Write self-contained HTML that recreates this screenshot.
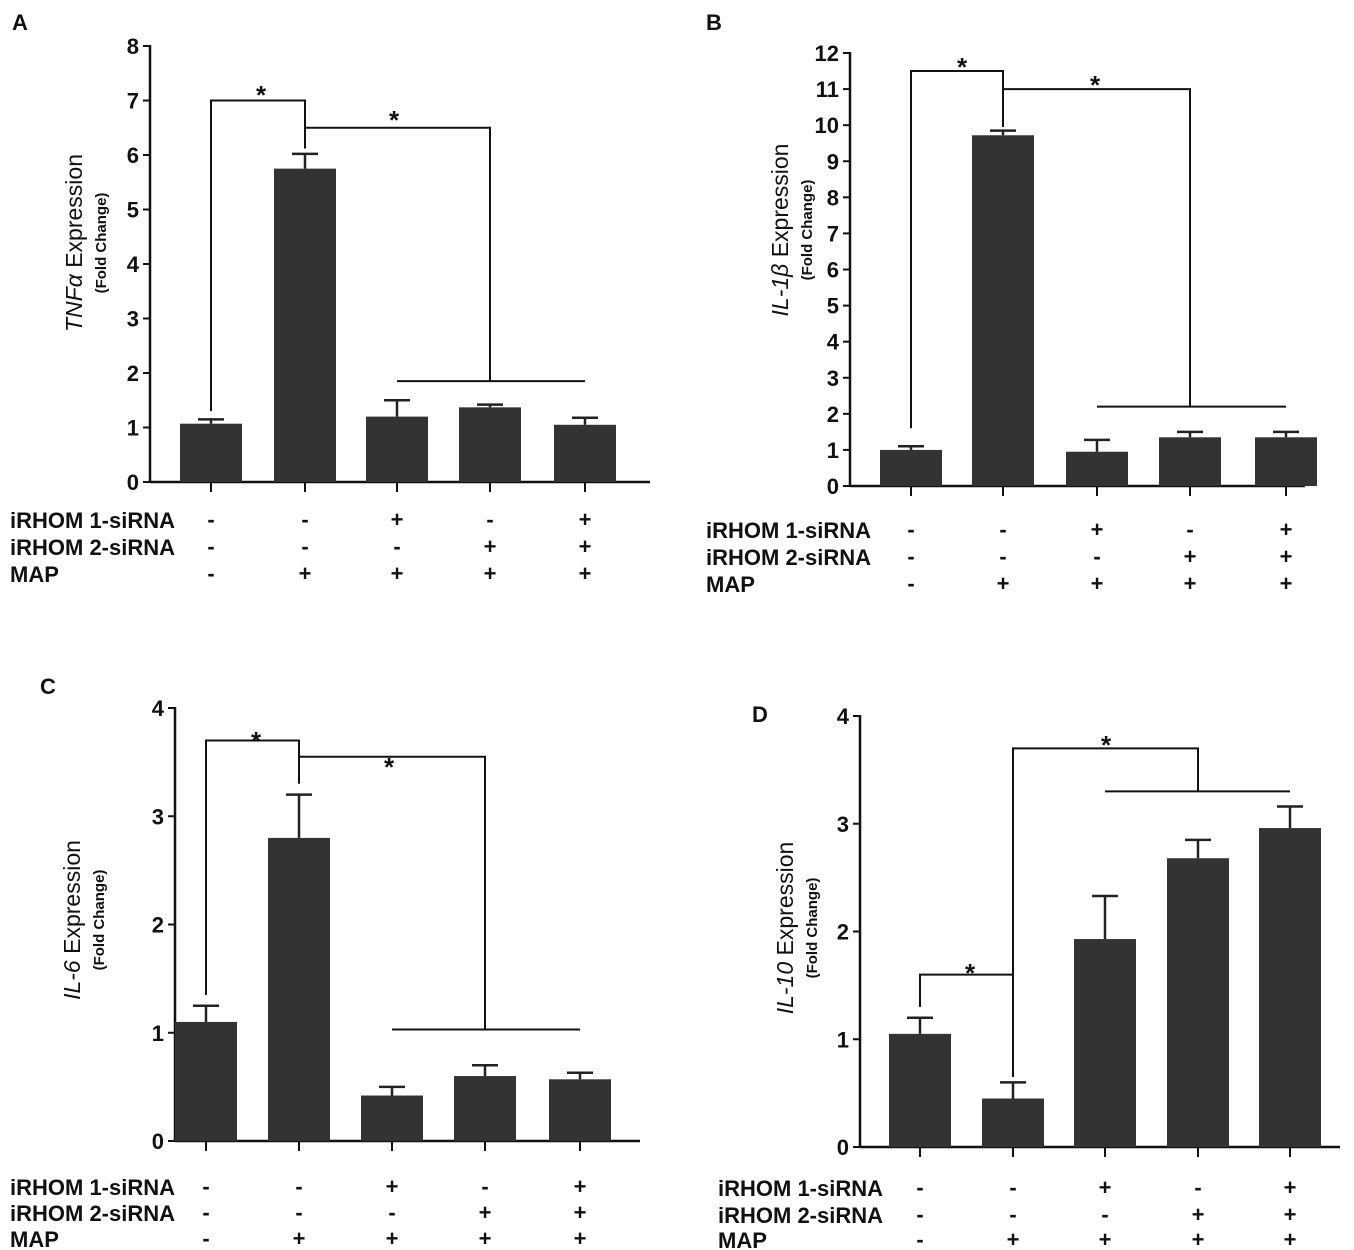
<!DOCTYPE html>
<html><head><meta charset="utf-8"><style>
html,body{margin:0;padding:0;background:#fff}
svg{display:block}
text{font-family:"Liberation Sans",Arial,sans-serif;fill:#111}
</style></head><body>
<svg id="fig" width="1354" height="1250" viewBox="0 0 1354 1250" xmlns="http://www.w3.org/2000/svg"></svg>
<script>
// Panel data
const groups = ["g1","g2","g3","g4","g5"];
const rowLabels = ["iRHOM 1-siRNA","iRHOM 2-siRNA","MAP"];
const row1 = ["-","-","+","-","+"];
const row2 = ["-","-","-","+","+"];
const row3 = ["-","+","+","+","+"];
const tnfValues = [1.07,5.75,1.2,1.37,1.05];
const tnfErr = [1.15,6.02,1.5,1.42,1.18];
const il1bValues = [1.0,9.72,0.95,1.35,1.35];
const il1bErr = [1.1,9.85,1.28,1.5,1.5];
const il6Values = [1.1,2.8,0.42,0.6,0.57];
const il6Err = [1.25,3.2,0.5,0.7,0.63];
const il10Values = [1.05,0.45,1.93,2.68,2.96];
const il10Err = [1.2,0.6,2.33,2.85,3.16];
const ticksA = [0,1,2,3,4,5,6,7,8];
const ticksB = [0,1,2,3,4,5,6,7,8,9,10,11,12];
const ticksC = [0,1,2,3,4];
const ticksD = [0,1,2,3,4];

const NS="http://www.w3.org/2000/svg";
const svg=document.getElementById('fig');
function mk(tag,attrs,parent){const e=document.createElementNS(NS,tag);for(const k in attrs)e.setAttribute(k,attrs[k]);(parent||svg).appendChild(e);return e;}

const panels=[
 {id:"a",letter:"A",lx:12,ly:16,ax:150,y0:482,ymax:8,ytop:46,xend:650,cx:[211,305,397,490,585],vals:tnfValues,err:tnfErr,ticks:ticksA,
  gene:"TNF",greek:"α",tx:82,tcy:243,rowY:[520,547,574],rowX:10,
  br:[[0,1,1.3,7,6.12],[1,3,6.5,6.5,1.85]],line:[2,4,1.85],star:[[261,90],[394,115]]},
 {id:"b",letter:"B",lx:706,ly:16,ax:850,y0:486,ymax:12,ytop:53,xend:1305,cx:[911,1003,1097,1190,1286],vals:il1bValues,err:il1bErr,ticks:ticksB,
  gene:"IL-1",greek:"β",tx:788,tcy:230,rowY:[530,557,584],rowX:706,
  br:[[0,1,1.6,11.5,9.95],[1,3,11.0,11.0,2.2]],line:[2,4,2.2],star:[[962,62],[1095,80]]},
 {id:"c",letter:"C",lx:40,ly:680,ax:175,y0:1141,ymax:4,ytop:708,xend:640,cx:[206,299,392,485,580],vals:il6Values,err:il6Err,ticks:ticksC,
  gene:"IL-6",greek:"",tx:80,tcy:920,rowY:[1187,1213,1239],rowX:10,
  br:[[0,1,1.35,3.7,3.3],[1,3,3.55,3.55,1.03]],line:[2,4,1.03],star:[[256,736],[389,762]]},
 {id:"d",letter:"D",lx:752,ly:708,ax:860,y0:1147,ymax:4,ytop:716,xend:1340,cx:[920,1013,1105,1198,1290],vals:il10Values,err:il10Err,ticks:ticksD,
  gene:"IL-10",greek:"",tx:793,tcy:928,rowY:[1188,1215,1240],rowX:718,
  br:[[0,1,1.3,1.6,0.65],[1,3,0.8,3.7,3.3]],line:[2,4,3.3],star:[[970,968],[1106,740]]}
];

panels.forEach(p=>{
  const g=mk('g',{});
  
  
  const y=v=>p.y0-(v/p.ymax)*(p.y0-p.ytop);
  const L=mk('text',{x:p.lx,y:p.ly+14,'font-size':22,'font-weight':'bold'},g);L.textContent=p.letter;
  
  
  const ya=mk('line',{x1:p.ax,y1:p.ytop-1,x2:p.ax,y2:p.y0,stroke:'#111','stroke-width':2.5},g);
  
  
  const xa=mk('line',{x1:p.ax,y1:p.y0,x2:p.xend,y2:p.y0,stroke:'#111','stroke-width':2.5},g);
  
  
  p.ticks.forEach(t=>{
    mk('line',{x1:p.ax-7,y1:y(t),x2:p.ax,y2:y(t),stroke:'#111','stroke-width':2},g);
    const tl=mk('text',{x:p.ax-11,y:y(t)+8,'font-size':22,'font-weight':'bold','text-anchor':'end'},g);
    tl.textContent=t;
    
    
  });
  const t=mk('text',{transform:`translate(${p.tx},${p.tcy}) rotate(-90)`,'text-anchor':'middle','font-size':23},g);
  
  
  const ts=mk('tspan',{'font-style':'italic'},t);ts.textContent=p.gene+p.greek;
  const ts2=mk('tspan',{},t);ts2.textContent=" Expression";
  const st=mk('text',{transform:`translate(${p.tx+24},${p.tcy}) rotate(-90)`,'text-anchor':'middle','font-size':15,'font-weight':'bold'},g);
  st.textContent="(Fold Change)";
  
  
  p.vals.forEach((v,i)=>{
    const cx=p.cx[i],w=62;
    const e=p.err[i];
    mk('line',{x1:cx,y1:y(e),x2:cx,y2:y(v),stroke:'#222','stroke-width':2.5},g);
    mk('line',{x1:cx-13,y1:y(e),x2:cx+13,y2:y(e),stroke:'#222','stroke-width':2.5},g);
    const b=mk('rect',{x:cx-w/2,y:y(v),width:w,height:p.y0-y(v),fill:'#333'},g);
    
    
    mk('line',{x1:cx,y1:p.y0,x2:cx,y2:p.y0+10,stroke:'#111','stroke-width':2},g);
    [row1,row2,row3].forEach((r,k)=>{
      const s=mk('text',{x:cx,y:p.rowY[k]+7,'font-size':22,'font-weight':'bold','text-anchor':'middle'},g);
      s.textContent=r[i];
      
      
    });
  });
  rowLabels.forEach((r,k)=>{
    const s=mk('text',{x:p.rowX,y:p.rowY[k]+8,'font-size':22,'font-weight':'bold'},g);
    s.textContent=r;
    
    
  });
  p.br.forEach(b=>{
    const [i,j,a,top,bt]=b;
    mk('polyline',{points:`${p.cx[i]},${y(a)} ${p.cx[i]},${y(top)} ${p.cx[j]},${y(top)} ${p.cx[j]},${y(bt)}`,fill:'none',stroke:'#111','stroke-width':2},g);
  });
  mk('line',{x1:p.cx[p.line[0]],y1:y(p.line[2]),x2:p.cx[p.line[1]],y2:y(p.line[2]),stroke:'#111','stroke-width':2},g);
  p.star.forEach(s=>{
    const sx=mk('text',{x:s[0],y:s[1]+14,'font-size':26,'font-weight':'bold','text-anchor':'middle'},g);
    sx.textContent="*";
    
    
  });
});
</script>
</body></html>
